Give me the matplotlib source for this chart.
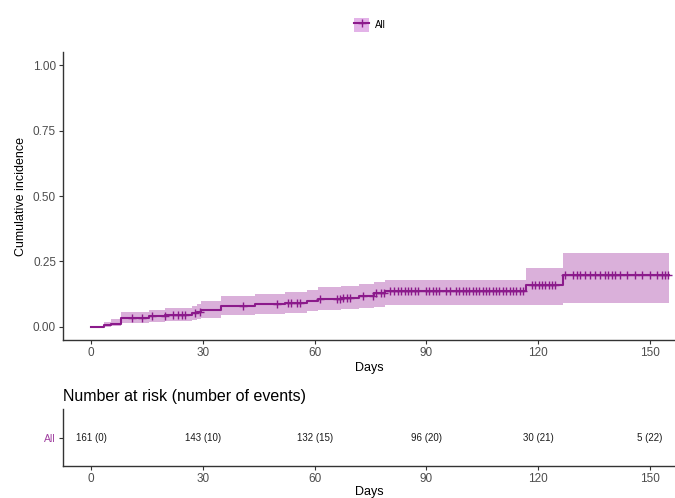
import numpy as np
import matplotlib.pyplot as plt
from matplotlib.lines import Line2D
from matplotlib.patches import Patch

plt.rcParams['font.family'] = ['Liberation Sans', 'DejaVu Sans']

# cumulative incidence step function (value holds from each time onward)
times = [0, 3.5, 5.5, 8, 15.5, 20, 27, 28.5, 29.5, 35, 44, 52, 58, 61, 67, 72, 76, 79, 116.7, 126.7, 155]
cif = [0, 0.006, 0.012, 0.033, 0.040, 0.046, 0.052, 0.058, 0.065, 0.081, 0.087, 0.093, 0.099,
       0.106, 0.112, 0.118, 0.128, 0.139, 0.160, 0.197, 0.197]
lower = [0, 0.001, 0.003, 0.014, 0.018, 0.022, 0.026, 0.030, 0.035, 0.044, 0.049, 0.054, 0.059,
         0.064, 0.069, 0.072, 0.076, 0.082, 0.083, 0.092, 0.092]
upper = [0, 0.020, 0.030, 0.058, 0.065, 0.072, 0.079, 0.087, 0.100, 0.118, 0.126, 0.134, 0.142,
         0.152, 0.158, 0.165, 0.172, 0.181, 0.225, 0.282, 0.282]

censor_days = [10.9, 13.6, 16.3, 19.9, 22.1, 23.4, 24.3, 25.2, 27.9, 29.2, 40.9, 49.8, 52.9, 53.8,
               55.2, 56.1, 61.4, 65.9, 66.8, 67.7, 68.6, 69.5, 73.0, 75.7, 76.5, 77.8, 78.6, 80.3,
               81.2, 82.4, 83.3, 84.2, 85.1, 86.0, 86.9, 87.8, 89.9, 90.8, 91.7, 92.6, 93.5, 95.3,
               96.2, 97.9, 98.8, 99.7, 100.6, 101.5, 102.4, 103.3, 104.2, 105.1, 106.0, 106.9,
               107.8, 108.7, 109.6, 110.5, 111.4, 112.3, 113.2, 114.1, 115.0, 115.9, 118.3, 119.2,
               120.1, 121.0, 121.9, 122.8, 123.7, 124.6, 127.2, 129.3, 130.4, 131.2, 132.5, 133.9,
               135.2, 136.6, 137.9, 138.7, 139.8, 140.6, 141.9, 143.8, 146.0, 147.8, 150.0, 151.8,
               153.2, 154.0, 154.8]

risk_days = [0, 30, 60, 90, 120, 150]
at_risk = [161, 143, 132, 96, 30, 5]
n_events = [0, 10, 15, 20, 21, 22]

line_col = '#8B1A8B'
band_col = '#DAB0DA'
tick_col = '#4D4D4D'

fig = plt.figure(figsize=(6.75, 4.98), dpi=100)
ax = fig.add_axes([63 / 675, 158 / 498, 612 / 675, 288 / 498])
ax_r = fig.add_axes([63 / 675, 32 / 498, 612 / 675, 57 / 498])

ax.fill_between(times, lower, upper, step='post', color=band_col, lw=0)
ax.step(times, cif, where='post', color=line_col, lw=1.5)
idx = np.searchsorted(times, censor_days, side='right') - 1
cens_y = np.array(cif)[idx]
ax.plot(censor_days, cens_y, ls='none', marker='+', ms=6, mew=1, color=line_col)

xlim = (-7.5, 156.7)
ax.set_xlim(*xlim)
ax.set_ylim(-0.05, 1.05)
ax.set_xticks(risk_days)
ax.set_yticks([0, 0.25, 0.5, 0.75, 1.0])
ax.set_yticklabels(['0.00', '0.25', '0.50', '0.75', '1.00'])
ax.set_xlabel('Days', fontsize=9, labelpad=2)
ax.set_ylabel('Cumulative incidence', fontsize=9, labelpad=4)

for a in (ax, ax_r):
    for s in ('top', 'right'):
        a.spines[s].set_visible(False)
    for s in ('left', 'bottom'):
        a.spines[s].set_linewidth(1.0)
        a.spines[s].set_color('#333333')
    a.tick_params(length=3, width=0.8, color='#333333', labelsize=8.5,
                  labelcolor=tick_col, pad=2)

# number-at-risk table
ax_r.set_xlim(*xlim)
ax_r.set_ylim(0, 1)
ax_r.set_xticks(risk_days)
ax_r.set_yticks([0.5])
ax_r.set_yticklabels(['All'])
ax_r.get_yticklabels()[0].set_color('#A040A0')
ax_r.get_yticklabels()[0].set_fontsize(7.5)
for d, n, e in zip(risk_days, at_risk, n_events):
    ax_r.text(d, 0.5, f'{n} ({e})', ha='center', va='center', fontsize=7, color='#1A1A1A')
ax_r.set_xlabel('Days', fontsize=9, labelpad=1)
ax_r.set_title('Number at risk (number of events)', loc='left', fontsize=11.5, pad=6, x=0.0)

key = (Patch(facecolor='#E3B3E8', edgecolor='none'),
       Line2D([], [], color=line_col, lw=1.5, marker='+', ms=6, mew=1))
fig.legend([key], ['All'], loc='center', bbox_to_anchor=(370 / 675, 1 - 25 / 498),
           frameon=False, fontsize=7, handlelength=1.5, handleheight=1.9,
           handletextpad=0.6)

fig.savefig('out.png', dpi=100)
